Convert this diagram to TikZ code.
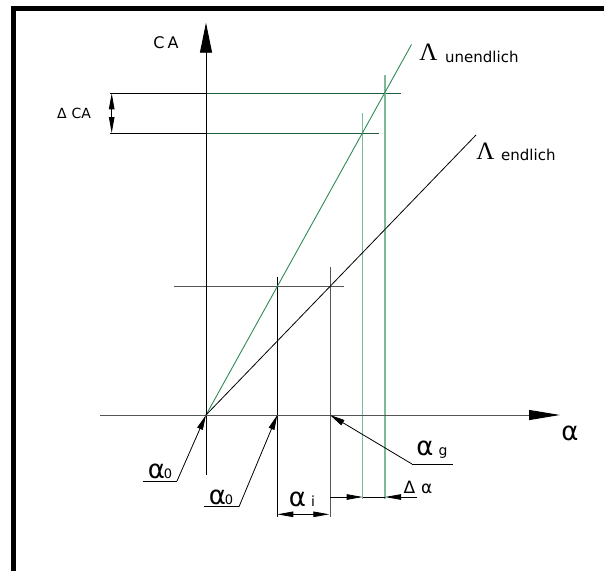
\documentclass[tikz,border=0pt]{standalone}
\usepackage{fontspec}
\newfontfamily\lblfont{DejaVu Sans}
\newfontfamily\grfont{Liberation Serif}
\usetikzlibrary{arrows.meta}
\definecolor{grn}{HTML}{2E8B57}
\definecolor{dgrn}{HTML}{1E5E3C}
\definecolor{lgrn}{HTML}{7DBB97}
\definecolor{gry}{HTML}{555555}
\begin{document}
\begin{tikzpicture}[x=1pt,y=-1pt,
  ln/.style={line width=0.9pt},
  leadarrow/.style={line width=0.8pt,-{Triangle[length=15pt,width=6pt]}},
  dimarrow/.style={line width=0.8pt,-{Triangle[length=16pt,width=5.5pt]}},
  txt/.style={inner sep=0pt,font=\lblfont\fontsize{15}{15}\selectfont},
  smalltxt/.style={inner sep=0pt,font=\lblfont\fontsize{14}{14}\selectfont},
  alphatxt/.style={inner sep=0pt,font=\lblfont\fontsize{26}{26}\selectfont},
  lambdatxt/.style={inner sep=0pt,font=\grfont\fontsize{25}{25}\selectfont}]
\useasboundingbox (0,0) rectangle (604,571);
% frame
\draw[line width=5pt,line join=miter] (13.5,571) -- (13.5,8.5) -- (604,8.5);
% coordinates
\coordinate (O) at (206,415);
\coordinate (ytop) at (206,22.7);
\coordinate (ybot) at (206,475);
\coordinate (xl) at (100,415);
\coordinate (xr) at (560,415);
\coordinate (gtop) at (411.5,44.5);
\coordinate (btop) at (476,135);
% construction lines
\draw[ln] (110,93.3) coordinate (h1l) -- (206,93.3) coordinate (h1m);
\draw[ln,dgrn] (h1m) -- (401,93.3) coordinate (h1r);
\draw[ln] (110,133) coordinate (h2l) -- (206,133) coordinate (h2m);
\draw[ln,dgrn] (h2m) -- (378.7,133) coordinate (h2r);
\draw[ln,lgrn,line width=1.1pt] (362.7,112.7) coordinate (v1t) -- (362.7,499) coordinate (v1b);
\draw[ln,lgrn,line width=1.1pt] (385,75) coordinate (v2t) -- (385,499) coordinate (v2b);
\draw[ln,gry] (174,286.7) coordinate (h3l) -- (344,286.7) coordinate (h3r);
\draw[ln] (277.3,276.7) coordinate (v3t) -- (277.3,516.7) coordinate (v3b);
\draw[ln,gry] (330,267) coordinate (v4t) -- (330,516.7) coordinate (v4b);
% characteristic lines
\draw[ln,grn] (O) -- (gtop);
\draw[line width=0.8pt] (O) -- (btop);
% axes
\draw[ln,-{Triangle[length=30pt,width=12pt]}] (ybot) -- (ytop);
\draw[ln,gry,-{Triangle[length=31pt,width=10pt,color=black,fill=black]}] (xl) -- (xr);
% axis labels
\node[txt,font=\lblfont\fontsize{16}{16}\selectfont] (ca) at (166,43) {C\kern3ptA};
\node[alphatxt] (alx) at (570,433) {α};
\node[lambdatxt] (lu) at (428.5,52) {Λ};
\node[txt,anchor=west] (un) at (445,57) {unendlich};
\node[lambdatxt] (le) at (485.5,151) {Λ};
\node[txt,anchor=west] (en) at (501,155) {endlich};
% Delta CA dimension
\coordinate (dcm) at (111.7,113);
\draw[dimarrow] (dcm) -- (111.7,93.3);
\draw[dimarrow] (dcm) -- (111.7,133);
\node[smalltxt] (dca) at (74,113) {Δ\kern5ptCA};
% alpha_0 leaders
\coordinate (u1a) at (143,481);
\coordinate (u1b) at (177,481);
\draw[ln] (u1a) -- (u1b);
\draw[leadarrow] (u1b) -- (O);
\node[alphatxt,anchor=south] (a01) at (160,479) {α\kern-1pt{\fontsize{13}{13}\selectfont 0}};
\coordinate (u2a) at (204,506.7);
\coordinate (u2b) at (239,506.7);
\draw[ln] (u2a) -- (u2b);
\coordinate (x3) at (277.3,415);
\draw[leadarrow] (u2b) -- (x3);
\node[alphatxt,anchor=south] (a02) at (221,505) {α\kern-1pt{\fontsize{13}{13}\selectfont 0}};
% alpha_g leader
\coordinate (uga) at (453,464);
\coordinate (ugb) at (412,464);
\coordinate (x4) at (330,415);
\draw[ln] (uga) -- (ugb);
\draw[leadarrow] (ugb) -- (x4);
\node[alphatxt,anchor=south] (ag) at (432,459) {α\kern5pt{\fontsize{14}{14}\selectfont g}};
% alpha_i dimension
\coordinate (aim) at (303.3,514.3);
\draw[dimarrow] (aim) -- (277.3,514.3);
\draw[dimarrow] (aim) -- (329.3,514.3);
\node[alphatxt,anchor=south] (ai) at (302,507) {α\kern5pt{\fontsize{14}{14}\selectfont i}};
% Delta alpha dimension
\draw[line width=0.8pt] (330,497) coordinate (dal) -- (346,497);
\draw[dimarrow] (dal) -- (362.7,497);
\draw[line width=0.8pt] (362.7,497) -- (385,497);
\coordinate (dar) at (417,497);
\draw[dimarrow] (dar) -- (385,497);
\node[txt,font=\lblfont\fontsize{17}{17}\selectfont] (da) at (418,487) {Δ\kern6ptα};
\end{tikzpicture}
\end{document}
